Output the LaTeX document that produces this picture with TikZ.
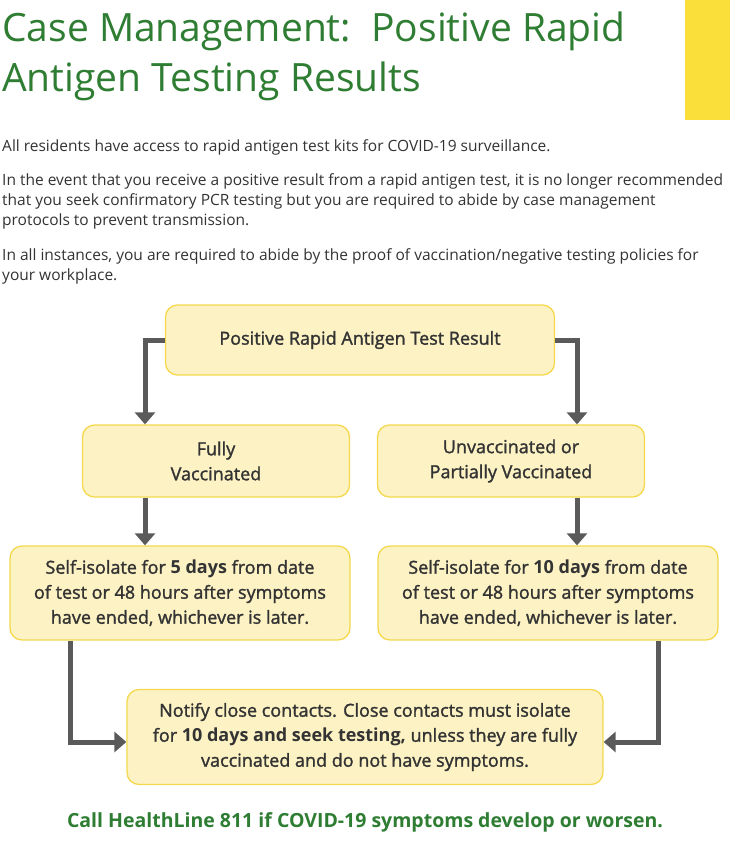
\documentclass[tikz,border=0pt]{standalone}
\usepackage{fontspec}
\setmainfont{Open Sans}
\newfontfamily\semib[FakeBold=1.5]{Open Sans}
\usetikzlibrary{arrows.meta}
\definecolor{tgreen}{HTML}{2E7D32}
\definecolor{bfill}{HTML}{FCF2C4}
\definecolor{bdraw}{HTML}{F4D94E}
\definecolor{ylw}{HTML}{FADF3A}
\definecolor{agray}{HTML}{5A5A5A}
\definecolor{txt}{HTML}{333333}
\newcommand{\hb}[1]{{\fontspec{Open Sans}\bfseries #1}}
\begin{document}
\begin{tikzpicture}[x=1pt,y=-1pt,
 box/.style={draw=bdraw,fill=bfill,line width=1.3pt,rounded corners=12pt,align=center,text=txt,font=\fontsize{18}{25}\selectfont\semib},
 arr/.style={draw=agray,line width=5pt,-{Triangle[length=12pt,width=20pt]}},
 para/.style={anchor=north west,align=left,text=txt,font=\fontsize{15.5}{20}\selectfont,inner sep=0pt}]
\useasboundingbox (0,0) rectangle (730,851);
\fill[ylw] (685,0) rectangle (730,120);
\node[anchor=north west,inner sep=0pt,text=tgreen,align=left,font=\fontsize{39}{50}\selectfont] (title) at (2,12) {Case Management:\ \ Positive Rapid\\Antigen Testing Results};
\node[para] (p1) at (2,139) {All residents have access to rapid antigen test kits for COVID-19 surveillance.};
\node[para] (p2) at (2,173) {In the event that you receive a positive result from a rapid antigen test, it is no longer recommended\\that you seek confirmatory PCR testing but you are required to abide by case management\\protocols to prevent transmission.};
\node[para] (p3) at (2,248) {In all instances, you are required to abide by the proof of vaccination/negative testing policies for\\your workplace.};
\node[box,minimum width=389pt,minimum height=70pt] (top) at (360,340) {Positive Rapid Antigen Test Result};
\node[box,minimum width=267pt,minimum height=72pt] (fv) at (216,461) {Fully\\Vaccinated};
\node[box,minimum width=267pt,minimum height=72pt] (uv) at (511,461) {Unvaccinated or\\Partially Vaccinated};
\node[box,minimum width=340pt,minimum height=94pt] (sl) at (180,593) {Self-isolate for \hb{5 days} from date\\of test or 48 hours after symptoms\\have ended, whichever is later.};
\node[box,minimum width=340pt,minimum height=94pt] (sr) at (548,593) {Self-isolate for \hb{10 days} from date\\of test or 48 hours after symptoms\\have ended, whichever is later.};
\node[box,minimum width=476pt,minimum height=95pt] (nt) at (365,737) {Notify close contacts. Close contacts must isolate\\for \hb{10 days and seek testing,} unless they are fully\\vaccinated and do not have symptoms.};
\node[text=tgreen,font=\fontsize{19.5}{24}\selectfont\bfseries] (call) at (365,822) {Call HealthLine 811 if COVID-19 symptoms develop or worsen.};
\coordinate (a1) at (145,340); \coordinate (a2) at (577,340);
\coordinate (a3) at (70,742); \coordinate (a4) at (658,742);
\draw[arr] (top.west) -- (a1) -- (a1 |- fv.north);
\draw[arr] (top.east) -- (a2) -- (a2 |- uv.north);
\draw[arr] (a1 |- fv.south) -- (a1 |- sl.north);
\draw[arr] (a2 |- uv.south) -- (a2 |- sr.north);
\draw[arr] (a3 |- sl.south) -- (a3) -- (a3 -| nt.west);
\draw[arr] (a4 |- sr.south) -- (a4) -- (a4 -| nt.east);
\end{tikzpicture}
\end{document}
